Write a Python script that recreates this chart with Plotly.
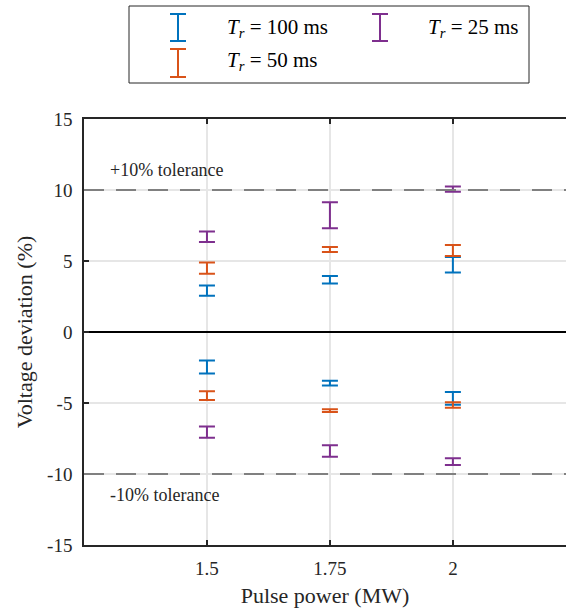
import plotly.graph_objects as go

# ---- data ----
x_power = [1.5, 1.75, 2.0]
tick_labels_x = ["1.5", "1.75", "2"]
y_ticks = [-15, -10, -5, 0, 5, 10, 15]
y_tick_labels = ["-15", "-10", "-5", "0", "5", "10", "15"]
tolerance = [10, -10]

series_names = ["100", "50", "25"]
# upper band (positive deviation) low/high per power level
pos_lo_100 = [2.55, 3.41, 4.19]
pos_hi_100 = [3.27, 3.95, 5.28]
neg_lo_100 = [-2.92, -3.76, -5.13]
neg_hi_100 = [-2.01, -3.43, -4.22]

pos_lo_50 = [4.11, 5.63, 5.35]
pos_hi_50 = [4.90, 5.98, 6.12]
neg_lo_50 = [-4.79, -5.63, -5.34]
neg_hi_50 = [-4.18, -5.44, -4.94]

pos_lo_25 = [6.33, 7.31, 9.88]
pos_hi_25 = [7.08, 9.13, 10.25]
neg_lo_25 = [-7.45, -8.78, -9.36]
neg_hi_25 = [-6.66, -7.97, -8.89]

colors = ["#0072BD", "#D95319", "#7E2F8E"]
FONT = "Liberation Serif, Times New Roman, serif"
TXT = "#262626"

W, H = 566, 611
L, R, T, B = 84, 0, 119, 66
PW, PH = W - L - R, H - T - B


def px2paper(px, py):
    return (px - L) / PW, (H - B - py) / PH


fig = go.Figure()

bands = [
    (pos_lo_100, pos_hi_100, neg_lo_100, neg_hi_100),
    (pos_lo_50, pos_hi_50, neg_lo_50, neg_hi_50),
    (pos_lo_25, pos_hi_25, neg_lo_25, neg_hi_25),
]

for (plo, phi, nlo, nhi), c in zip(bands, colors):
    xs, ys, eu, ed = [], [], [], []
    for x, lo, hi in list(zip(x_power, plo, phi)) + list(zip(x_power, nlo, nhi)):
        mid = (lo + hi) / 2
        xs.append(x)
        ys.append(mid)
        eu.append(hi - mid)
        ed.append(mid - lo)
    fig.add_trace(go.Scatter(
        x=xs, y=ys, mode="markers",
        marker=dict(size=1, color=c, opacity=0),
        error_y=dict(type="data", symmetric=False, array=eu, arrayminus=ed,
                     color=c, thickness=2, width=8),
        showlegend=False, hoverinfo="skip",
    ))

# tolerance dashed lines
for tv in tolerance:
    fig.add_shape(type="line", xref="paper", yref="y", x0=0, x1=1, y0=tv, y1=tv,
                  line=dict(color="#808080", width=2, dash="20px,12px"), layer="above")

fig.add_annotation(x=px2paper(108, 0)[0], xref="paper", y=11.4, yref="y",
                   text="+10% tolerance", showarrow=False, xanchor="left", yanchor="middle",
                   font=dict(family=FONT, size=18, color=TXT))
fig.add_annotation(x=px2paper(108, 0)[0], xref="paper", y=-11.5, yref="y",
                   text="-10% tolerance", showarrow=False, xanchor="left", yanchor="middle",
                   font=dict(family=FONT, size=18, color=TXT))

# ---- custom legend ----
bx0, by0 = px2paper(129, 6)
bx1, by1 = px2paper(529, 83)
fig.add_shape(type="rect", xref="paper", yref="paper", x0=bx0, x1=bx1, y0=by1, y1=by0,
              line=dict(color=TXT, width=1), fillcolor="white", layer="above")

legend_items = [
    (178, 14, 41, 225, 28, colors[0], series_names[0]),
    (178, 49, 77, 225, 61, colors[1], series_names[1]),
    (380, 14, 41, 426, 28, colors[2], series_names[2]),
]
for sx, sy0, sy1, tx, ty, c, name in legend_items:
    ax0, ay0 = px2paper(sx, sy0)
    _, ay1 = px2paper(sx, sy1)
    cl, _ = px2paper(sx - 8, 0)
    cr, _ = px2paper(sx + 8, 0)
    fig.add_shape(type="line", xref="paper", yref="paper", x0=ax0, x1=ax0, y0=ay0, y1=ay1,
                  line=dict(color=c, width=2))
    fig.add_shape(type="line", xref="paper", yref="paper", x0=cl, x1=cr, y0=ay0, y1=ay0,
                  line=dict(color=c, width=2))
    fig.add_shape(type="line", xref="paper", yref="paper", x0=cl, x1=cr, y0=ay1, y1=ay1,
                  line=dict(color=c, width=2))
    tx_p, ty_p = px2paper(tx, ty)
    fig.add_annotation(x=tx_p, y=ty_p, xref="paper", yref="paper",
                       text=f"<i>T<sub>r</sub></i> = {name} ms", showarrow=False,
                       xanchor="left", yanchor="middle",
                       font=dict(family=FONT, size=21, color="black"))

fig.update_layout(
    width=W, height=H,
    margin=dict(l=L, r=R, t=T, b=B, pad=0),
    paper_bgcolor="white", plot_bgcolor="white",
    font=dict(family=FONT, size=19, color=TXT),
    showlegend=False,
)

fig.update_xaxes(
    range=[1.25, 2.23], tickvals=x_power, ticktext=tick_labels_x,
    showgrid=True, gridcolor="#e6e6e6", gridwidth=2,
    showline=True, linecolor=TXT, linewidth=1.5, mirror="ticks",
    ticks="inside", ticklen=5, tickwidth=1.5, tickcolor=TXT,
    zeroline=False,
    tickfont=dict(family=FONT, size=19, color=TXT),
    ticklabelstandoff=5,
    title=dict(text="Pulse power (MW)", font=dict(family=FONT, size=22, color=TXT), standoff=10),
)
fig.update_yaxes(
    range=[-15, 15], tickvals=y_ticks, ticktext=y_tick_labels,
    showgrid=True, gridcolor="#e6e6e6", gridwidth=2,
    showline=True, linecolor=TXT, linewidth=1.5,
    ticks="inside", ticklen=5, tickwidth=1.5, tickcolor=TXT,
    zeroline=True, zerolinecolor="black", zerolinewidth=1.5,
    tickfont=dict(family=FONT, size=19, color=TXT),
    ticklabelstandoff=6,
    title=dict(text="Voltage deviation (%)", font=dict(family=FONT, size=22, color=TXT), standoff=8),
)

fig.write_html("out.html")
